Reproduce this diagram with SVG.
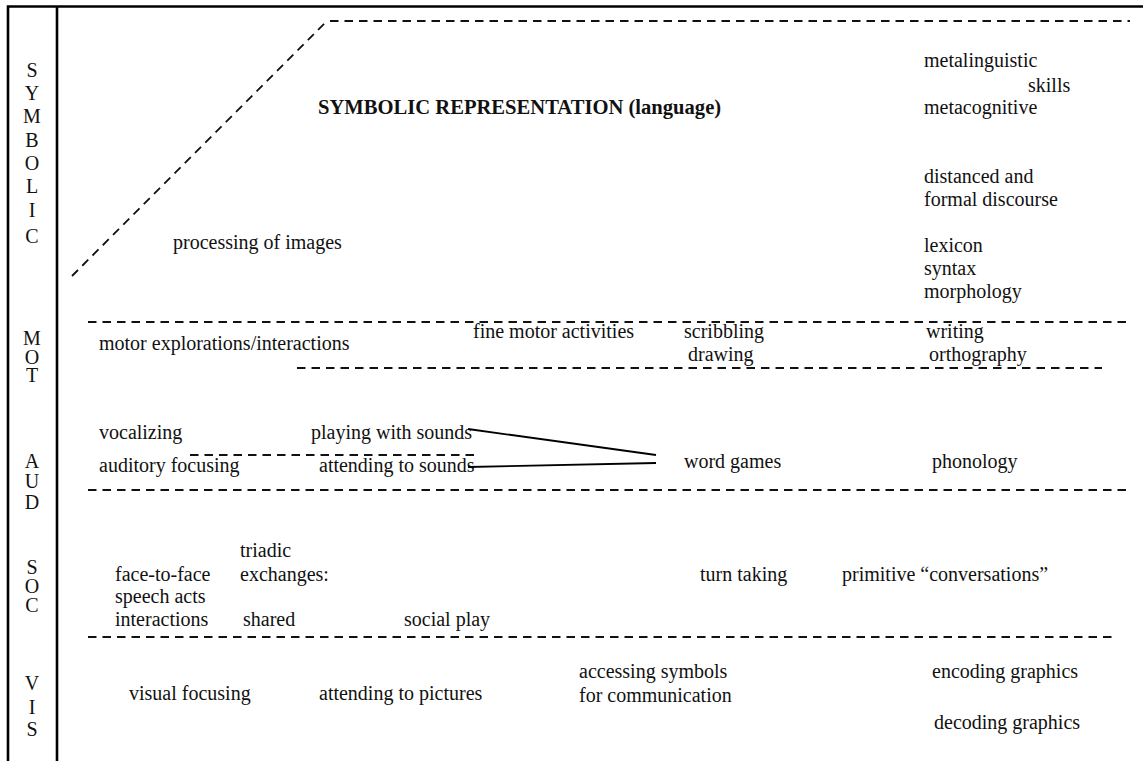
<svg xmlns="http://www.w3.org/2000/svg" width="1143" height="761" viewBox="0 0 1143 761">
<style>
text{font-family:"Liberation Serif","Times New Roman",serif;font-size:20px;fill:#111}
.b{font-weight:bold;font-size:20.6px}
.m{text-anchor:middle}
.frame{stroke:#000;stroke-width:2.6;fill:none}
.dash{stroke:#111;stroke-width:1.8;stroke-dasharray:8.5 6;fill:none}
.conn{stroke:#000;stroke-width:1.8;fill:none}
</style>
<rect width="1143" height="761" fill="#fff"/>
<g id="frame">
<path class="frame" d="M8,761 V6.5 H1143 M57,6.5 V761"/>
</g>
<g id="dividers">
<path class="dash" d="M72,276 L327,21"/>
<path class="dash" d="M330,21 H1130"/>
<path class="dash" d="M88,322 H1130"/>
<path class="dash" d="M297,368 H1102"/>
<path class="dash" d="M190,455 H480"/>
<path class="dash" d="M88,490 H1130"/>
<path class="dash" d="M88,637 H1112"/>
</g>
<g id="row-labels">
<g id="lbl-symbolic">
<text class="m"><tspan x="32" y="77">S</tspan><tspan x="32" y="100">Y</tspan><tspan x="32" y="123">M</tspan><tspan x="32" y="147">B</tspan><tspan x="32" y="170">O</tspan><tspan x="32" y="193">L</tspan><tspan x="32" y="217">I</tspan><tspan x="32" y="243">C</tspan></text>
</g>
<g id="lbl-mot">
<text class="m"><tspan x="32" y="345">M</tspan><tspan x="32" y="364">O</tspan><tspan x="32" y="382">T</tspan></text>
</g>
<g id="lbl-aud">
<text class="m"><tspan x="32" y="468">A</tspan><tspan x="32" y="488">U</tspan><tspan x="32" y="509">D</tspan></text>
</g>
<g id="lbl-soc">
<text class="m"><tspan x="32" y="574">S</tspan><tspan x="32" y="593">O</tspan><tspan x="32" y="612">C</tspan></text>
</g>
<g id="lbl-vis">
<text class="m"><tspan x="32" y="690">V</tspan><tspan x="32" y="714">I</tspan><tspan x="32" y="736">S</tspan></text>
</g>
</g>
<g id="n-symbolic-rep"><text class="b" x="318" y="114">SYMBOLIC REPRESENTATION (language)</text></g>
<g id="n-metaskills">
<text x="924" y="67">metalinguistic</text>
<text x="1028" y="92">skills</text>
<text x="924" y="114">metacognitive</text>
</g>
<g id="n-discourse">
<text x="924" y="183">distanced and</text>
<text x="924" y="206">formal discourse</text>
</g>
<g id="n-lexicon">
<text x="924" y="252">lexicon</text>
<text x="924" y="275">syntax</text>
<text x="924" y="298">morphology</text>
</g>
<g id="n-images"><text x="173" y="249">processing of images</text></g>
<g id="n-motor"><text x="99" y="350">motor explorations/interactions</text></g>
<g id="n-fine-motor"><text x="473" y="338">fine motor activities</text></g>
<g id="n-scribbling">
<text x="684" y="338">scribbling</text>
<text x="688" y="361">drawing</text>
</g>
<g id="n-writing">
<text x="926" y="338">writing</text>
<text x="929" y="361">orthography</text>
</g>
<g id="n-vocalizing"><text x="99" y="439">vocalizing</text></g>
<g id="n-playing"><text x="311" y="439">playing with sounds</text></g>
<g id="n-auditory"><text x="99" y="472">auditory focusing</text></g>
<g id="n-attending-sounds"><text x="319" y="472">attending to sounds</text></g>
<g id="n-word-games"><text x="684" y="468">word games</text></g>
<g id="n-phonology"><text x="932" y="468">phonology</text></g>
<g id="n-face">
<text x="115" y="581">face-to-face</text>
<text x="115" y="603">speech acts</text>
<text x="115" y="626">interactions</text>
</g>
<g id="n-triadic">
<text x="240" y="557">triadic</text>
<text x="240" y="581">exchanges:</text>
<text x="243" y="626">shared</text>
</g>
<g id="n-social-play"><text x="404" y="626">social play</text></g>
<g id="n-turn"><text x="700" y="581">turn taking</text></g>
<g id="n-primitive"><text x="842" y="581">primitive “conversations”</text></g>
<g id="n-visual"><text x="129" y="700">visual focusing</text></g>
<g id="n-pictures"><text x="319" y="700">attending to pictures</text></g>
<g id="n-accessing">
<text x="579" y="678">accessing symbols</text>
<text x="579" y="702">for communication</text>
</g>
<g id="n-encoding"><text x="932" y="678">encoding graphics</text></g>
<g id="n-decoding"><text x="934" y="729">decoding graphics</text></g>
<g id="connectors">
<line class="conn" x1="468" y1="429" x2="656" y2="455"/>
<line class="conn" x1="468" y1="467" x2="656" y2="463"/>
</g>
</svg>
